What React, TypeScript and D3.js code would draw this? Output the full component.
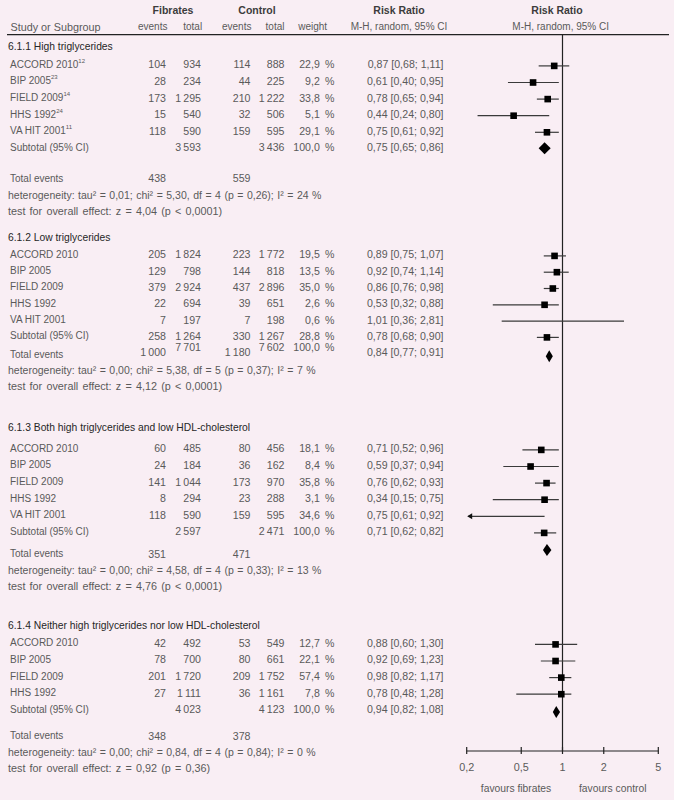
import React from "react";
import * as d3 from "d3";

// ---------- DATA ----------
const tickValues = [0.2, 0.5, 1, 2, 5];
const tickLabels = ["0,2", "0,5", "1", "2", "5"];

const headings = [
  "6.1.1 High triglycerides",
  "6.1.2 Low triglycerides",
  "6.1.3 Both high triglycerides and low HDL-cholesterol",
  "6.1.4 Neither high triglycerides nor low HDL-cholesterol",
];

// Section 1
const s1Names = ["ACCORD 2010", "BIP 2005", "FIELD 2009", "HHS 1992", "VA HIT 2001"];
const s1Refs = ["12", "23", "14", "24", "11"];
const s1FibEv = [104, 28, 173, 15, 118];
const s1FibTot = [934, 234, 1295, 540, 590];
const s1ConEv = [114, 44, 210, 32, 159];
const s1ConTot = [888, 225, 1222, 506, 595];
const s1Weight = [22.9, 9.2, 33.8, 5.1, 29.1];
const s1RR = [0.87, 0.61, 0.78, 0.44, 0.75];
const s1Lo = [0.68, 0.4, 0.65, 0.24, 0.61];
const s1Hi = [1.11, 0.95, 0.94, 0.8, 0.92];
const s1PlotEst = [0.87, 0.61, 0.78, 0.44, 0.77];
const s1PlotLo = [0.67, 0.4, 0.65, 0.24, 0.63];
const s1PlotHi = [1.12, 0.94, 0.94, 0.8, 0.94];
const s1Sub = { fibTot: 3593, conTot: 3436, weight: 100.0, rr: 0.75, lo: 0.65, hi: 0.86 };
const s1Diamond = [0.74, 0.67, 0.82];
const s1Total = [438, 559];
const s1Het = "heterogeneity: tau² = 0,01; chi² = 5,30, df = 4 (p = 0,26); I² = 24 %";
const s1Test = "test for overall effect: z = 4,04 (p < 0,0001)";

// Section 2
const s2Names = ["ACCORD 2010", "BIP 2005", "FIELD 2009", "HHS 1992", "VA HIT 2001", "Subtotal (95% CI)"];
const s2FibEv = [205, 129, 379, 22, 7, 258];
const s2FibTot = [1824, 798, 2924, 694, 197, 1264];
const s2ConEv = [223, 144, 437, 39, 7, 330];
const s2ConTot = [1772, 818, 2896, 651, 198, 1267];
const s2Weight = [19.5, 13.5, 35.0, 2.6, 0.6, 28.8];
const s2RR = [0.89, 0.92, 0.86, 0.53, 1.01, 0.78];
const s2Lo = [0.75, 0.74, 0.76, 0.32, 0.36, 0.68];
const s2Hi = [1.07, 1.14, 0.98, 0.88, 2.81, 0.9];
const s2PlotEst = [0.875, 0.91, 0.85, 0.74, NaN, 0.77];
const s2PlotLo = [0.73, 0.73, 0.73, 0.31, 0.36, 0.65];
const s2PlotHi = [1.06, 1.11, 0.94, 0.94, 2.81, 0.94];
const s2Sub = { fibTot: 7701, conTot: 7602, weight: 100.0, rr: 0.84, lo: 0.77, hi: 0.91 };
const s2Diamond = [0.8, 0.755, 0.85];
const s2Total = [1000, 1180];
const s2Het = "heterogeneity: tau² = 0,00; chi² = 5,38, df = 5 (p = 0,37); I² = 7 %";
const s2Test = "test for overall effect: z = 4,12 (p < 0,0001)";

// Section 3
const s3Names = ["ACCORD 2010", "BIP 2005", "FIELD 2009", "HHS 1992", "VA HIT 2001"];
const s3FibEv = [60, 24, 141, 8, 118];
const s3FibTot = [485, 184, 1044, 294, 590];
const s3ConEv = [80, 36, 173, 23, 159];
const s3ConTot = [456, 162, 970, 288, 595];
const s3Weight = [18.1, 8.4, 35.8, 3.1, 34.6];
const s3RR = [0.71, 0.59, 0.76, 0.34, 0.75];
const s3Lo = [0.52, 0.37, 0.62, 0.15, 0.61];
const s3Hi = [0.96, 0.94, 0.93, 0.75, 0.92];
const s3PlotEst = [0.7, 0.585, 0.765, 0.74, NaN, 0.735];
const s3PlotLo = [0.51, 0.37, 0.63, 0.31, 0.2, 0.62];
const s3PlotHi = [0.94, 0.94, 0.89, 0.94, 0.74, 0.9];
const s3Sub = { fibTot: 2597, conTot: 2471, weight: 100.0, rr: 0.71, lo: 0.62, hi: 0.82 };
const s3Diamond = [0.77, 0.72, 0.83];
const s3Total = [351, 471];
const s3Het = "heterogeneity: tau² = 0,00; chi² = 4,58, df = 4 (p = 0,33); I² = 13 %";
const s3Test = "test for overall effect: z = 4,76 (p < 0,0001)";

// Section 4
const s4Names = ["ACCORD 2010", "BIP 2005", "FIELD 2009", "HHS 1992"];
const s4FibEv = [42, 78, 201, 27];
const s4FibTot = [492, 700, 1720, 1111];
const s4ConEv = [53, 80, 209, 36];
const s4ConTot = [549, 661, 1752, 1161];
const s4Weight = [12.7, 22.1, 57.4, 7.8];
const s4RR = [0.88, 0.92, 0.98, 0.78];
const s4Lo = [0.6, 0.69, 0.82, 0.48];
const s4Hi = [1.3, 1.23, 1.17, 1.28];
const s4PlotEst = [0.89, 0.89, 0.98, 0.98];
const s4PlotLo = [0.63, 0.695, 0.8, 0.46];
const s4PlotHi = [1.28, 1.24, 1.16, 1.16];
const s4Sub = { fibTot: 4023, conTot: 4123, weight: 100.0, rr: 0.94, lo: 0.82, hi: 1.08 };
const s4Diamond = [0.9, 0.85, 0.96];
const s4Total = [348, 378];
const s4Het = "heterogeneity: tau² = 0,00; chi² = 0,84, df = 4 (p = 0,84); I² = 0 %";
const s4Test = "test for overall effect: z = 0,92 (p = 0,36)";

// ---------- LAYOUT ----------
const W = 674;
const H = 800;
const BG = "#f9eef4";
const TXT = "#5a5a5a";
const DARK = "#262626";
const FONT = "'Liberation Sans', Arial, sans-serif";

const locale = d3.formatLocale({ decimal: ",", thousands: "\u2009", grouping: [3], currency: ["", ""] });
const fInt = locale.format(",d");
const f1 = locale.format(".1f");
const f2 = locale.format(".2f");
const rrText = (e: number, l: number, h: number) => `${f2(e)} [${f2(l)}; ${f2(h)}]`;

const X = { name: 10, head: 8, fibEv: 166, fibTot: 201, conEv: 250.5, conTot: 284.5, weight: 334.5, rr: 443.5 };

const x = d3.scaleLog().domain([0.2, 5]).range([466.7, 658.3]);

type Sec = {
  heading: string;
  headY: number;
  rowYs: number[];
  names: string[];
  refs?: string[];
  fibEv: number[];
  fibTot: number[];
  conEv: number[];
  conTot: number[];
  weight: number[];
  rr: number[];
  lo: number[];
  hi: number[];
  pEst: number[];
  pLo: number[];
  pHi: number[];
  sub: { fibTot: number; conTot: number; weight: number; rr: number; lo: number; hi: number };
  subLabelY: number | null;
  subNumY: number;
  subRRY: number;
  diamond: number[];
  diamondY: number;
  total: number[];
  totalLabelY: number;
  totalNumY: number;
  het: string;
  test: string;
  hetY: number;
  testY: number;
};

const rows = (start: number, step: number, n: number) => d3.range(n).map((i) => start + i * step);

const sections: Sec[] = [
  {
    heading: headings[0], headY: 46.7, rowYs: rows(64.3, 16.6, 6), names: s1Names, refs: s1Refs,
    fibEv: s1FibEv, fibTot: s1FibTot, conEv: s1ConEv, conTot: s1ConTot, weight: s1Weight,
    rr: s1RR, lo: s1Lo, hi: s1Hi, pEst: s1PlotEst, pLo: s1PlotLo, pHi: s1PlotHi,
    sub: s1Sub, subLabelY: 147.3, subNumY: 147.3, subRRY: 147.3, diamond: s1Diamond, diamondY: 148.2,
    total: s1Total, totalLabelY: 178.3, totalNumY: 178.3, het: s1Het, test: s1Test, hetY: 195, testY: 210.8,
  },
  {
    heading: headings[1], headY: 237, rowYs: rows(254.3, 16.3, 6), names: s2Names,
    fibEv: s2FibEv, fibTot: s2FibTot, conEv: s2ConEv, conTot: s2ConTot, weight: s2Weight,
    rr: s2RR, lo: s2Lo, hi: s2Hi, pEst: s2PlotEst, pLo: s2PlotLo, pHi: s2PlotHi,
    sub: s2Sub, subLabelY: null, subNumY: 346.5, subRRY: 352, diamond: s2Diamond, diamondY: 356.3,
    total: s2Total, totalLabelY: 354.5, totalNumY: 351.5, het: s2Het, test: s2Test, hetY: 370.3, testY: 386.3,
  },
  {
    heading: headings[2], headY: 427.7, rowYs: rows(448.3, 16.6, 6), names: s3Names,
    fibEv: s3FibEv, fibTot: s3FibTot, conEv: s3ConEv, conTot: s3ConTot, weight: s3Weight,
    rr: s3RR, lo: s3Lo, hi: s3Hi, pEst: s3PlotEst, pLo: s3PlotLo, pHi: s3PlotHi,
    sub: s3Sub, subLabelY: 531.3, subNumY: 531.3, subRRY: 531.3, diamond: s3Diamond, diamondY: 550,
    total: s3Total, totalLabelY: 553.7, totalNumY: 553.7, het: s3Het, test: s3Test, hetY: 570.3, testY: 586.3,
  },
  {
    heading: headings[3], headY: 625, rowYs: rows(642.8, 16.6, 5), names: s4Names,
    fibEv: s4FibEv, fibTot: s4FibTot, conEv: s4ConEv, conTot: s4ConTot, weight: s4Weight,
    rr: s4RR, lo: s4Lo, hi: s4Hi, pEst: s4PlotEst, pLo: s4PlotLo, pHi: s4PlotHi,
    sub: s4Sub, subLabelY: 709.2, subNumY: 709.2, subRRY: 709.2, diamond: s4Diamond, diamondY: 712,
    total: s4Total, totalLabelY: 735.7, totalNumY: 735.7, het: s4Het, test: s4Test, hetY: 751.7, testY: 767.7,
  },
];

const NUM = 10.6;
const LBL = 10;
const SQ = 6.6;
const MOFF = 1.6;

function Txt(props: { x: number; y: number; anchor?: string; size?: number; color?: string; weight?: string; ws?: number; children: React.ReactNode }) {
  return (
    <text
      x={props.x}
      y={props.y}
      textAnchor={props.anchor || "start"}
      dominantBaseline="central"
      fontSize={props.size || LBL}
      fill={props.color || TXT}
      fontWeight={props.weight || "normal"}
      wordSpacing={props.ws || 0}
    >
      {props.children}
    </text>
  );
}

function Section({ s }: { s: Sec }) {
  const markRows = s.pLo.map((_, i) => i);
  return (
    <g>
      <Txt x={X.head} y={s.headY} color={DARK} size={10.3}>{s.heading}</Txt>
      {s.names.map((nm, i) => {
        const y = s.rowYs[i];
        return (
          <g key={nm + i}>
            <text x={X.name} y={y} dominantBaseline="central" fontSize={LBL} fill={TXT}>
              {nm}
              {s.refs && s.refs[i] ? (
                <tspan fontSize={6} dy={-3.5}>{s.refs[i]}</tspan>
              ) : null}
            </text>
            <Txt x={X.fibEv} y={y} anchor="end" size={NUM}>{fInt(s.fibEv[i])}</Txt>
            <Txt x={X.fibTot} y={y} anchor="end" size={NUM}>{fInt(s.fibTot[i])}</Txt>
            <Txt x={X.conEv} y={y} anchor="end" size={NUM}>{fInt(s.conEv[i])}</Txt>
            <Txt x={X.conTot} y={y} anchor="end" size={NUM}>{fInt(s.conTot[i])}</Txt>
            <Txt x={X.weight} y={y} anchor="end" size={NUM}>{f1(s.weight[i]) + "\u2002%"}</Txt>
            <Txt x={X.rr} y={y} anchor="end" size={NUM}>{rrText(s.rr[i], s.lo[i], s.hi[i])}</Txt>
          </g>
        );
      })}
      {s.subLabelY !== null ? (
        <Txt x={X.name} y={s.subLabelY}>Subtotal (95% CI)</Txt>
      ) : null}
      <Txt x={X.fibTot} y={s.subNumY} anchor="end" size={NUM}>{fInt(s.sub.fibTot)}</Txt>
      <Txt x={X.conTot} y={s.subNumY} anchor="end" size={NUM}>{fInt(s.sub.conTot)}</Txt>
      <Txt x={X.weight} y={s.subNumY} anchor="end" size={NUM}>{f1(s.sub.weight) + "\u2002%"}</Txt>
      <Txt x={X.rr} y={s.subRRY} anchor="end" size={NUM}>{rrText(s.sub.rr, s.sub.lo, s.sub.hi)}</Txt>

      <Txt x={X.name} y={s.totalLabelY}>Total events</Txt>
      <Txt x={X.fibEv} y={s.totalNumY} anchor="end" size={NUM}>{fInt(s.total[0])}</Txt>
      <Txt x={X.conEv} y={s.totalNumY} anchor="end" size={NUM}>{fInt(s.total[1])}</Txt>
      <Txt x={X.head} y={s.hetY} size={10.5} ws={0.6}>{s.het}</Txt>
      <Txt x={X.head} y={s.testY} size={10.8} ws={1.2}>{s.test}</Txt>

      {markRows.map((i) => {
        const y = s.rowYs[i] + MOFF;
        const lo = s.pLo[i];
        const hi = s.pHi[i];
        const est = s.pEst[i];
        const arrow = lo <= 0.2;
        const x0 = arrow ? x(0.2) + 1.5 : x(lo);
        return (
          <g key={"m" + i}>
            <line x1={x0} x2={x(hi)} y1={y} y2={y} stroke="#3a3a3a" strokeWidth={1.2} />
            {arrow ? (
              <path d={`M${x0 - 1},${y} l5,-3 l0,6 z`} fill="#111" />
            ) : null}
            {isFinite(est) ? (
              <rect x={x(est) - SQ / 2} y={y - SQ / 2} width={SQ} height={SQ} fill="#000" />
            ) : null}
          </g>
        );
      })}
      <path
        d={`M${x(s.diamond[1])},${s.diamondY} L${x(s.diamond[0])},${s.diamondY - 6} L${x(s.diamond[2])},${s.diamondY} L${x(s.diamond[0])},${s.diamondY + 6} Z`}
        fill="#000"
      />
    </g>
  );
}

export default function App() {
  const axisY = 751;
  const x1 = x(1);
  return (
    <svg
      width={W}
      height={H}
      style={{ position: "absolute", left: 0, top: 0, fontFamily: FONT }}
      xmlns="http://www.w3.org/2000/svg"
    >
      <rect x={0} y={0} width={W} height={H} fill={BG} />
      {/* headers */}
      <Txt x={173} y={9.5} anchor="middle" size={10.5} weight="bold" color="#3c3c3c">Fibrates</Txt>
      <Txt x={257} y={9.5} anchor="middle" size={10.5} weight="bold" color="#3c3c3c">Control</Txt>
      <Txt x={399} y={9.5} anchor="middle" size={10.5} weight="bold" color="#3c3c3c">Risk Ratio</Txt>
      <Txt x={557} y={9.5} anchor="middle" size={10.5} weight="bold" color="#3c3c3c">Risk Ratio</Txt>
      <Txt x={10.5} y={26.7} size={10.8}>Study or Subgroup</Txt>
      <Txt x={152.7} y={26.7} anchor="middle">events</Txt>
      <Txt x={192.7} y={26.7} anchor="middle">total</Txt>
      <Txt x={236.7} y={26.7} anchor="middle">events</Txt>
      <Txt x={275} y={26.7} anchor="middle">total</Txt>
      <Txt x={312.7} y={26.7} anchor="middle">weight</Txt>
      <Txt x={399} y={26.7} anchor="middle">M-H, random, 95% CI</Txt>
      <Txt x={560.7} y={26.7} anchor="middle">M-H, random, 95% CI</Txt>
      <line x1={7} x2={669} y1={34.7} y2={34.7} stroke="#222" strokeWidth={1.2} />

      {/* reference line */}
      <line x1={x1} x2={x1} y1={34.7} y2={axisY} stroke="#222" strokeWidth={1.2} />

      {sections.map((s, i) => (
        <Section key={i} s={s} />
      ))}

      {/* axis */}
      <line x1={x(0.2)} x2={x(5)} y1={axisY} y2={axisY} stroke="#222" strokeWidth={1.2} />
      {tickValues.map((t, i) => (
        <g key={t}>
          <line x1={x(t)} x2={x(t)} y1={axisY - 4} y2={axisY + 3} stroke="#222" strokeWidth={1.2} />
          <Txt x={x(t)} y={767} anchor="middle" size={10.8}>{tickLabels[i]}</Txt>
        </g>
      ))}
      <Txt x={516} y={788.3} anchor="middle" size={10.3}>favours fibrates</Txt>
      <Txt x={612.7} y={788.3} anchor="middle" size={10.3}>favours control</Txt>
    </svg>
  );
}
